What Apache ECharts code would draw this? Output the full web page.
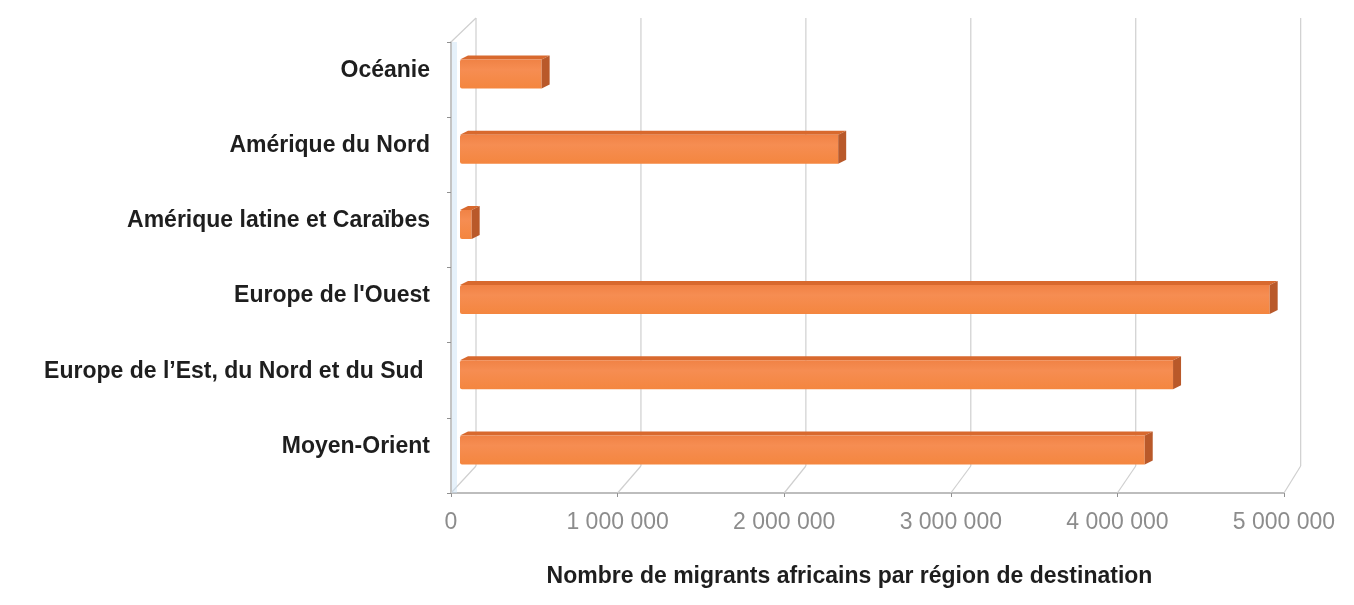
<!DOCTYPE html>
<html>
<head>
<meta charset="utf-8">
<script src="https://cdn.jsdelivr.net/npm/echarts@6/dist/echarts.min.js"></script>
<style>
  html, body { margin: 0; padding: 0; background: #fff; }
  #chart { width: 1354px; height: 605px; }
</style>
</head>
<body>
<div id="chart"></div>
<script>
// Destination regions, top to bottom
const categories = [
  'Océanie',
  'Amérique du Nord',
  'Amérique latine et Caraïbes',
  "Europe de l'Ouest",
  'Europe de l\u2019Est, du Nord et du Sud ',
  'Moyen-Orient'
];
// Number of African migrants per destination region
const migrants = [490000, 2270000, 70000, 4860000, 4280000, 4110000];
// Value axis ticks
const xTicks = [0, 1000000, 2000000, 3000000, 4000000, 5000000];

const FONT = "'Liberation Sans Narrow', 'Liberation Sans', sans-serif";
// Depth of the 3D box (back wall offset from the front plane)
const DEPTH_X = 25, DEPTH_Y = 27, WALL_TOP = 24;

function fmt(v) {
  return String(v).replace(/\B(?=(\d{3})+(?!\d))/g, ' ');
}

const chart = echarts.init(document.getElementById('chart'), null, { renderer: 'canvas' });

chart.setOption({
  backgroundColor: '#ffffff',
  animation: false,
  grid: { left: 451, right: 70, top: 42, bottom: 112 },
  xAxis: {
    type: 'value',
    min: 0,
    max: 5000000,
    interval: 1000000,
    axisLine: { show: true, lineStyle: { color: '#a8a8a8', width: 1.5 } },
    axisTick: { show: true, length: 4, lineStyle: { color: '#909090' } },
    splitLine: { show: false },
    axisLabel: {
      formatter: fmt,
      color: '#8c8c8c',
      fontFamily: FONT,
      fontSize: 23,
      margin: 18
    },
    name: 'Nombre de migrants africains par région de destination',
    nameLocation: 'middle',
    nameGap: 72,
    nameTextStyle: {
      color: '#1e1e1e',
      fontFamily: FONT,
      fontWeight: 'bold',
      fontSize: 23,
      padding: [0, 36, 0, 0]
    }
  },
  yAxis: {
    type: 'category',
    inverse: true,
    data: categories,
    axisLine: { show: true, lineStyle: { color: '#b0b0b0', width: 1.5 } },
    axisTick: { show: true, length: 4, lineStyle: { color: '#909090' } },
    axisLabel: {
      color: '#1e1e1e',
      fontFamily: FONT,
      fontWeight: 'bold',
      fontSize: 23,
      margin: 21,
      verticalAlign: 'bottom',
      lineHeight: 18
    }
  },
  series: [
    {
      // back wall gridlines and floor diagonals
      type: 'custom',
      clip: false,
      z: 1,
      silent: true,
      data: xTicks.map(v => [v, 0]),
      encode: { x: 0, y: 1 },
      renderItem: function (params, api) {
        const cs = params.coordSys;
        const v = api.value(0);
        const fx = api.coord([v, 0])[0];
        const fy = cs.y + cs.height;
        const bx = cs.x + DEPTH_X + (fx - cs.x) * 0.99;
        const by = fy - DEPTH_Y;
        const ty = cs.y - WALL_TOP;
        const style = { stroke: '#cfcfcf', lineWidth: 1.2 };
        const children = [
          { type: 'line', shape: { x1: bx, y1: ty, x2: bx, y2: by }, style: style },
          { type: 'line', shape: { x1: fx, y1: fy, x2: bx, y2: by }, style: style }
        ];
        if (v === 0) {
          children.push({ type: 'line', shape: { x1: cs.x, y1: cs.y, x2: bx, y2: ty }, style: style });
          children.push({
            type: 'rect',
            shape: { x: cs.x + 1, y: cs.y, width: 5, height: cs.height },
            style: { fill: 'rgba(200,225,245,0.45)' }
          });
        }
        return { type: 'group', children: children };
      }
    },
    {
      // 3D-looking horizontal bars
      type: 'custom',
      clip: false,
      z: 3,
      data: migrants.map((v, i) => [v, i]),
      encode: { x: 0, y: 1 },
      renderItem: function (params, api) {
        const v = api.value(0);
        const c = api.value(1);
        const p0 = api.coord([0, c]);
        const p1 = api.coord([v, c]);
        const shiftX = 9, shiftY = -8;
        const dx = 8, dy = 4;
        const xs = p0[0] + shiftX;
        const xe = p1[0] + shiftX;
        const cy = p0[1] + shiftY;
        const top = cy - 12;
        const bottom = cy + 17;
        return {
          type: 'group',
          children: [
            {
              type: 'polygon',
              shape: { points: [[xs, top], [xe, top], [xe + dx, top - dy], [xs + dx, top - dy]] },
              style: { fill: '#d8692e' }
            },
            {
              type: 'rect',
              shape: { x: xs, y: top, width: xe - xs, height: bottom - top, r: [2, 0, 0, 2] },
              style: {
                fill: new echarts.graphic.LinearGradient(0, 0, 0, 1, [
                  { offset: 0, color: '#f08245' },
                  { offset: 0.35, color: '#f68d52' },
                  { offset: 1, color: '#f4863f' }
                ])
              }
            },
            {
              type: 'polygon',
              shape: { points: [[xe, top], [xe + dx, top - dy], [xe + dx, bottom - dy], [xe, bottom]] },
              style: { fill: '#b9592a' }
            }
          ]
        };
      }
    }
  ]
});
</script>
</body>
</html>
